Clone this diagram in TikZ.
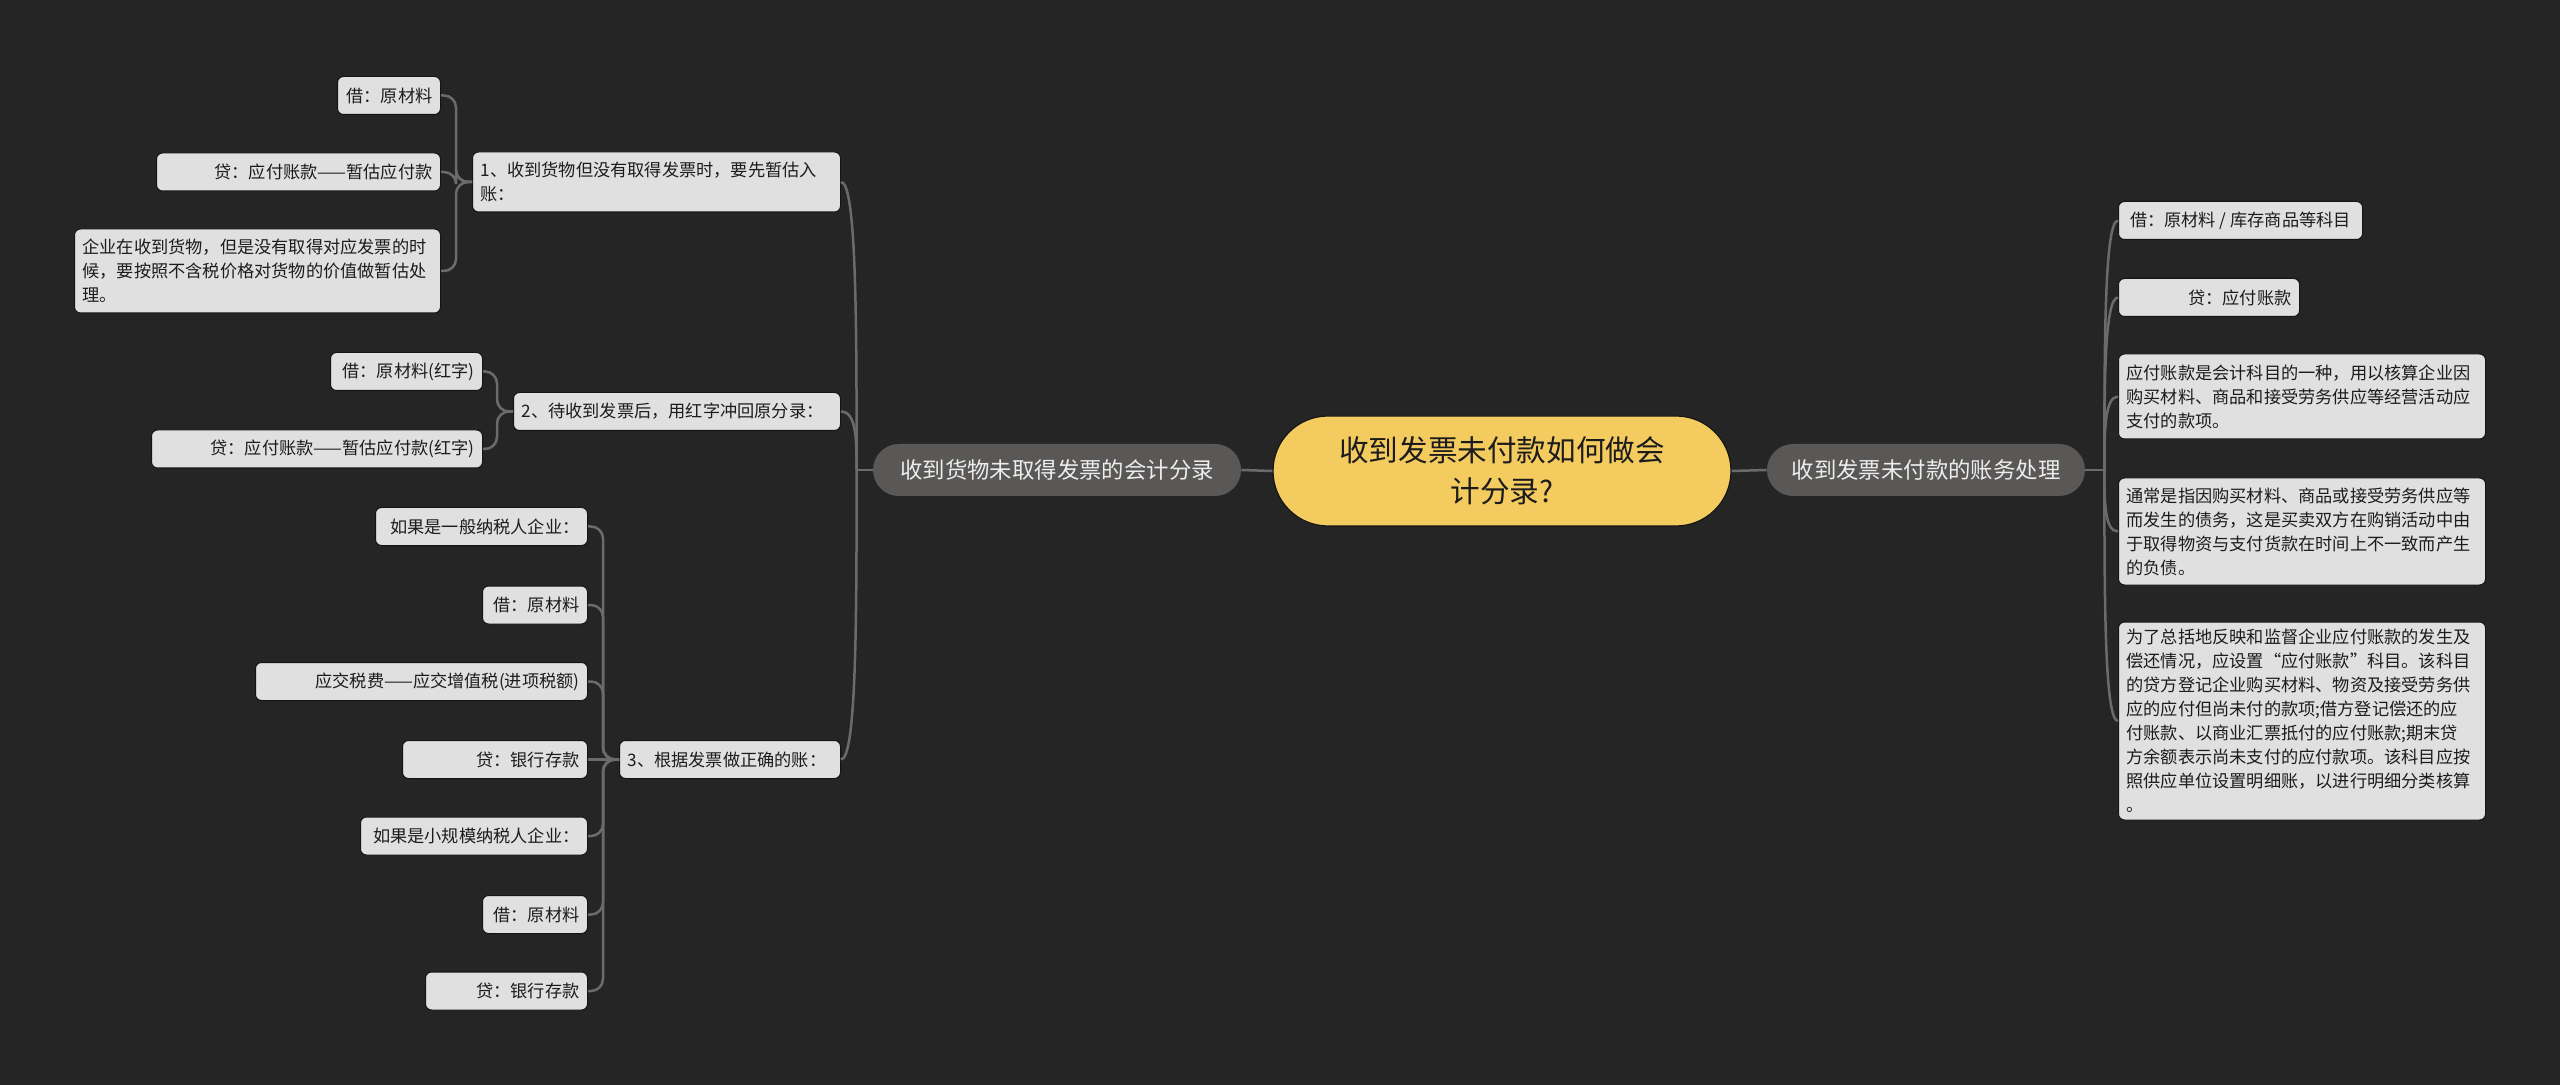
\documentclass[tikz,border=0pt]{standalone}
\usepackage{fontspec}
\usetikzlibrary{calc}
\newfontfamily\cjk{Noto Sans CJK SC}
\definecolor{bgc}{HTML}{252525}
\definecolor{linec}{HTML}{6B6B6B}
\definecolor{boxf}{HTML}{E0E0E0}
\definecolor{boxb}{HTML}{151515}
\definecolor{pillf}{HTML}{5A5856}
\definecolor{rootf}{HTML}{F4CB5E}
\definecolor{txt}{HTML}{1C1C1C}
\tikzset{
  leaf/.style={draw=boxb, line width=0.5pt, fill=boxf, rounded corners=3pt,
    font=\cjk\fontsize{8.6pt}{12pt}\selectfont, text=txt,
    inner xsep=4pt, inner ysep=3pt, minimum height=19pt},
  lb/.style={leaf, anchor=east, align=right},
  lbl/.style={leaf, anchor=east, align=left},
  rb/.style={leaf, anchor=west, align=left},
  rbr/.style={leaf, anchor=west, align=right},
  pill/.style={fill=pillf, rounded corners=13pt, minimum height=26pt,
    font=\cjk\fontsize{11.2pt}{14pt}\selectfont, text=white!93!black, inner xsep=6pt},
  rootnode/.style={draw=boxb, line width=0.6pt, fill=rootf, rounded corners=27.5pt,
    minimum height=55pt, minimum width=229pt, align=center,
    font=\cjk\fontsize{14.8pt}{20.5pt}\selectfont, text=txt},
  conn/.style={draw=linec, line width=1.25pt, rounded corners=6pt},
  curv/.style={draw=linec, line width=1.25pt},
}
\begin{document}
\begin{tikzpicture}[x=0.5pt,y=-0.5pt]
\fill[bgc] (0,0) rectangle (2560,1085);
\useasboundingbox (0,0) rectangle (2560,1085);

% root and main branches
\node[rootnode] (root) at (1502,471) {收到发票未付款如何做会\\计分录?};
\node[pill, minimum width=184pt] (L) at (1057,470) {收到货物未取得发票的会计分录};
\node[pill, minimum width=159pt] (R) at (1926,470) {收到发票未付款的账务处理};

% left level 2
\node[lbl, text width=176pt, minimum height=30pt] (n1) at (841,182) {1、收到货物但没有取得发票时，要先暂估入\\账：};
\node[lbl, text width=155.5pt] (n2) at (841,411.5) {2、待收到发票后，用红字冲回原分录：};
\node[lbl, text width=102.5pt] (n3) at (841,759.5) {3、根据发票做正确的账：};

% left level 3
\node[lb, text width=43.5pt] (n1a) at (441,95.5) {借：原材料};
\node[lb, text width=134pt] (n1b) at (441,172) {贷：应付账款——暂估应付款};
\node[lbl, text width=175pt, minimum height=42pt] (n1c) at (441,271) {企业在收到货物，但是没有取得对应发票的时\\候，要按照不含税价格对货物的价值做暂估处\\理。};

\node[lb, text width=68pt] (n2a) at (483,371.5) {借：原材料(红字)};
\node[lb, text width=157.5pt] (n2b) at (483,449) {贷：应付账款——暂估应付款(红字)};

\node[lb, text width=98pt] (n3a) at (588,526.5) {如果是一般纳税人企业：};
\node[lb, text width=44.5pt] (n3b) at (588,605) {借：原材料};
\node[lb, text width=158pt] (n3c) at (588,681.5) {应交税费——应交增值税(进项税额)};
\node[lb, text width=84.5pt] (n3d) at (588,759.5) {贷：银行存款};
\node[lb, text width=105.5pt] (n3e) at (588,836) {如果是小规模纳税人企业：};
\node[lb, text width=44.5pt] (n3f) at (588,914.5) {借：原材料};
\node[lb, text width=73pt] (n3g) at (588,991) {贷：银行存款};

% right level 2
\node[rb, minimum width=122pt] (r1) at (2118,220.5) {借：原材料 / 库存商品等科目};
\node[rbr, text width=82.5pt] (r2) at (2118,297.5) {贷：应付账款};
\node[rb, text width=175.5pt, minimum height=42.5pt] (r3) at (2118,396.5) {应付账款是会计科目的一种，用以核算企业因\\购买材料、商品和接受劳务供应等经营活动应\\支付的款项。};
\node[rb, text width=175.5pt, minimum height=53.5pt] (r4) at (2118,531.5) {通常是指因购买材料、商品或接受劳务供应等\\而发生的债务，这是买卖双方在购销活动中由\\于取得物资与支付货款在时间上不一致而产生\\的负债。};
\node[rb, text width=175.5pt, minimum height=99pt] (r5) at (2118,721) {为了总括地反映和监督企业应付账款的发生及\\偿还情况，应设置“应付账款”科目。该科目\\的贷方登记企业购买材料、物资及接受劳务供\\应的应付但尚未付的款项;借方登记偿还的应\\付账款、以商业汇票抵付的应付账款;期末贷\\方余额表示尚未支付的应付款项。该科目应按\\照供应单位设置明细账，以进行明细分类核算\\。};

% connectors
\draw[curv] (root.west) -- (L.east);
\draw[curv] (root.east) -- (R.west);
\draw[curv] (L.west) -- ++(-16,0) coordinate (Lt);
\foreach \c in {n1,n2,n3}{\draw[curv] (Lt) .. controls ($(Lt)!0.5!(Lt |- \c.east)$) and (Lt |- \c.east) .. (\c.east);}
\draw[curv] (R.east) -- ++(19,0) coordinate (Rt);
\foreach \c in {r1,r2,r3,r4,r5}{\draw[curv] (Rt) .. controls ($(Rt)!0.5!(Rt |- \c.west)$) and (Rt |- \c.west) .. (\c.west);}
\foreach \c in {n1a,n1b,n1c}{\draw[conn] (n1.west) -- ++(-16,0) |- (\c.east);}
\foreach \c in {n2a,n2b}{\draw[conn] (n2.west) -- ++(-16,0) |- (\c.east);}
\foreach \c in {n3a,n3b,n3c,n3e,n3f,n3g}{\draw[conn] (n3.west) -- ++(-16,0) |- (\c.east);}
\draw[conn] (n3.west) -- (n3d.east);
\end{tikzpicture}
\end{document}
